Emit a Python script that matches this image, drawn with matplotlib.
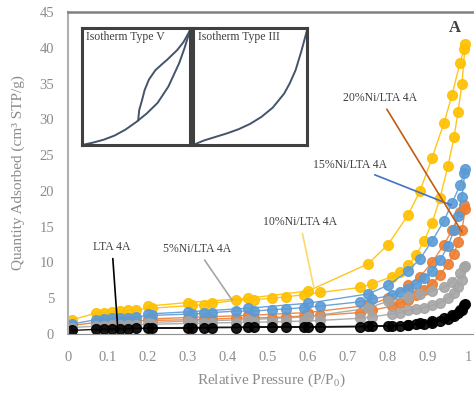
import matplotlib
matplotlib.use("Agg")
import matplotlib.pyplot as plt

plt.rcParams["font.family"] = ["Liberation Serif", "DejaVu Serif"]
plt.rcParams["mathtext.fontset"] = "custom"
plt.rcParams["mathtext.rm"] = "Liberation Serif"

# relative pressure grid (adsorption up, desorption back down)
p_ads = [0.01, 0.07, 0.09, 0.11, 0.13, 0.15, 0.17, 0.21, 0.31, 0.34, 0.36,
         0.42, 0.465, 0.51, 0.545, 0.59, 0.63, 0.73, 0.76, 0.81, 0.83, 0.85,
         0.87, 0.89, 0.91, 0.93, 0.95, 0.965, 0.975, 0.985, 0.993]
p_des = [0.99, 0.98, 0.96, 0.94, 0.91, 0.88, 0.85, 0.8, 0.75, 0.6, 0.45, 0.3, 0.2]

lta_ads = [0.5, 0.65, 0.7, 0.7, 0.75, 0.75, 0.8, 0.8, 0.85, 0.85, 0.9, 0.9, 0.95,
           0.95, 0.95, 1.0, 1.0, 1.0, 1.05, 1.1, 1.15, 1.25, 1.35, 1.45, 1.6,
           1.8, 2.1, 2.5, 2.9, 3.4, 4.2]
lta_des = [4.0, 3.3, 2.6, 2.2, 1.8, 1.5, 1.3, 1.15, 1.1, 1.0, 0.95, 0.9, 0.85]

ni5_ads = [0.9, 1.1, 1.15, 1.2, 1.2, 1.25, 1.3, 1.35, 1.5, 1.5, 1.55, 1.6, 1.65,
           1.7, 1.75, 1.8, 1.9, 2.2, 2.4, 2.8, 3.0, 3.3, 3.5, 3.7, 4.0, 4.4,
           5.0, 5.7, 6.5, 7.5, 9.5]
ni5_des = [9.3, 8.5, 7.3, 6.5, 6.0, 5.6, 5.2, 4.6, 3.6, 2.4, 2.0, 1.8, 1.6]

ni10_ads = [2.0, 2.9, 3.0, 3.1, 3.2, 3.3, 3.4, 3.6, 4.0, 4.1, 4.3, 4.7, 4.8,
            5.0, 5.2, 5.5, 5.8, 6.5, 7.0, 8.0, 8.7, 9.6, 11.0, 13.0, 15.5,
            19.0, 23.5, 27.5, 31.0, 35.0, 40.5]
ni10_des = [39.8, 37.9, 33.4, 29.5, 24.6, 20.0, 16.6, 12.5, 9.8, 6.0, 5.0, 4.4, 3.9]

ni15_ads = [1.4, 2.0, 2.1, 2.2, 2.2, 2.3, 2.4, 2.6, 2.8, 2.9, 3.0, 3.2, 3.2,
            3.4, 3.5, 3.7, 3.9, 4.5, 4.9, 5.4, 5.8, 6.3, 7.0, 7.8, 8.8, 10.3,
            12.3, 14.5, 16.5, 19.2, 23.0]
ni15_des = [22.5, 20.8, 18.3, 15.8, 13.0, 10.5, 8.8, 6.8, 5.6, 4.3, 3.6, 3.1, 2.8]

ni20_ads = [1.2, 1.6, 1.65, 1.7, 1.75, 1.8, 1.85, 1.9, 2.0, 2.05, 2.1, 2.2,
            2.25, 2.3, 2.4, 2.5, 2.6, 3.0, 3.3, 3.9, 4.3, 4.8, 5.5, 6.2, 7.0,
            8.3, 9.8, 11.2, 12.8, 14.5, 17.5]
ni20_des = [18.0, 17.0, 14.5, 12.5, 10.0, 8.0, 6.8, 5.0, 4.0, 3.0, 2.6, 2.3, 2.1]

# schematic isotherms for the two insets
typeV_ads_x = [0.0, 0.1, 0.2, 0.3, 0.4, 0.5, 0.6, 0.7, 0.8, 0.85, 0.9, 0.95, 1.0]
typeV_ads_y = [0.0, 0.02, 0.045, 0.08, 0.13, 0.195, 0.27, 0.36, 0.5, 0.6, 0.7,
               0.83, 0.98]
typeV_des_x = [0.52, 0.53, 0.555, 0.58, 0.62, 0.68, 0.74, 0.79, 0.88, 0.94, 1.0]
typeV_des_y = [0.21, 0.3, 0.38, 0.47, 0.56, 0.64, 0.69, 0.73, 0.81, 0.88, 0.98]
typeIII_x = [0.0, 0.1, 0.2, 0.3, 0.4, 0.5, 0.6, 0.7, 0.8, 0.85, 0.9, 0.95, 1.0]
typeIII_y = [0.0, 0.04, 0.07, 0.1, 0.135, 0.18, 0.24, 0.32, 0.44, 0.53, 0.64,
             0.8, 0.98]

series = [
    ("10%Ni/LTA 4A", ni10_ads, ni10_des, "#FFC000"),
    ("20%Ni/LTA 4A", ni20_ads, ni20_des, "#ED7D31"),
    ("15%Ni/LTA 4A", ni15_ads, ni15_des, "#5B9BD5"),
    ("5%Ni/LTA 4A", ni5_ads, ni5_des, "#A5A5A5"),
    ("LTA 4A", lta_ads, lta_des, "#000000"),
]

fig = plt.figure(figsize=(4.74, 3.95), dpi=100)
ax = fig.add_axes([68 / 474, 1 - 334 / 395, 406 / 474, 322 / 395])

for name, ads, des, col in series:
    ax.plot(p_ads + p_des, ads + des, color=col, lw=1.0, marker="o",
            ms=7, mec=col, mfc=col, alpha=0.9)

ax.set_xlim(0, 406 / 400)
ax.set_ylim(0, 45)
ax.set_xticks([0, 0.1, 0.2, 0.3, 0.4, 0.5, 0.6, 0.7, 0.8, 0.9, 1.0])
ax.set_xticklabels(["0", "0.1", "0.2", "0.3", "0.4", "0.5", "0.6", "0.7",
                    "0.8", "0.9", "1"])
ax.set_yticks(range(0, 46, 5))
ax.tick_params(length=0, labelsize=10.5, labelcolor="#8c8c8c")
ax.tick_params(axis="x", pad=12)
ax.tick_params(axis="y", pad=10)
ax.set_xlabel("Relative Pressure (P/P$_0$)", fontsize=11, color="#8c8c8c",
              labelpad=6)
ax.set_ylabel("Quantity Adsorbed (cm³ STP/g)", fontsize=11, color="#8c8c8c",
              labelpad=10)
ax.spines["left"].set_color("#b0b0b0")
ax.spines["bottom"].set_color("#909090")
ax.spines["top"].set_color("#808080")
ax.spines["top"].set_linewidth(1.8)
ax.spines["left"].set_linewidth(1.5)
ax.spines["right"].set_visible(False)


def px(x, y):
    return (x - 68) / 400, (334 - y) / 7.156


labels = [
    ("LTA 4A", (112, 247), (118, 332), "#000000"),
    ("5%Ni/LTA 4A", (197, 249), (232, 300), "#A5A5A5"),
    ("10%Ni/LTA 4A", (300, 222), (314, 288), "#FFD966"),
    ("15%Ni/LTA 4A", (350, 165), (451, 205), "#4472C4"),
    ("20%Ni/LTA 4A", (380, 98), (462, 232), "#C55A11"),
]
for text, tpos, epos, col in labels:
    ax.annotate(text, xy=px(*epos), xytext=px(*tpos), fontsize=8.5,
                color="#404040", ha="center", va="center",
                arrowprops=dict(arrowstyle="-", color=col, lw=1.2,
                                shrinkA=2, shrinkB=0))

ax.text(*px(455, 28), "A", fontsize=12, fontweight="bold", color="#404040",
        ha="center", va="center")

# inset boxes
insets = [
    ("Isotherm Type V", 82, 190, [(typeV_ads_x, typeV_ads_y),
                                  (typeV_des_x, typeV_des_y)]),
    ("Isotherm Type III", 193, 307, [(typeIII_x, typeIII_y)]),
]
for title, x0, x1, curves in insets:
    ia = fig.add_axes([x0 / 474, 1 - 145 / 395, (x1 - x0) / 474, 117 / 395])
    for cx, cy in curves:
        ia.plot(cx, cy, color="#44546A", lw=1.4)
    ia.set_xlim(0, 1)
    ia.set_ylim(0, 1)
    ia.set_xticks([])
    ia.set_yticks([])
    for s in ia.spines.values():
        s.set_color("#404040")
        s.set_linewidth(2.2)
    ia.text(0.04, 0.92, title, transform=ia.transAxes, fontsize=8.5,
            color="#404040", ha="left", va="center")

fig.savefig("out.png", dpi=100)
